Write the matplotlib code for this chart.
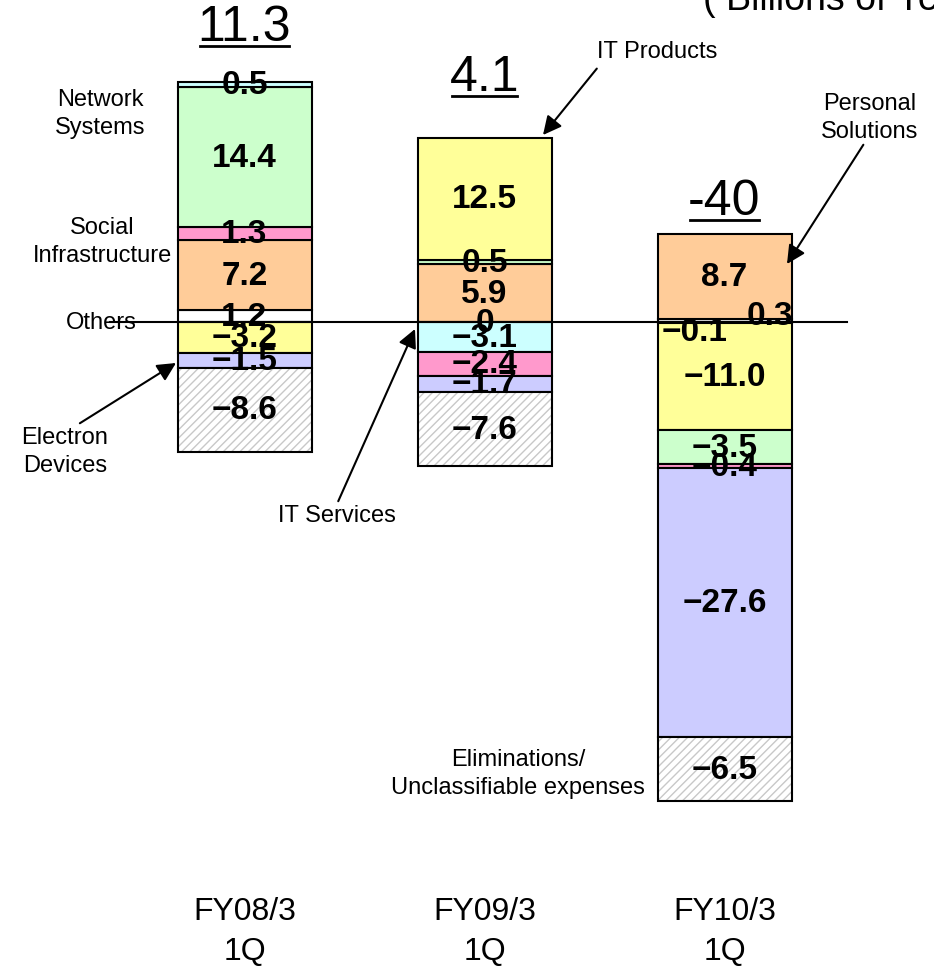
import numpy as np
import matplotlib
matplotlib.use('Agg')
import matplotlib.pyplot as plt

plt.rcParams['font.family'] = ['Liberation Sans', 'DejaVu Sans']

categories = ['FY08/3\n1Q', 'FY09/3\n1Q', 'FY10/3\n1Q']
total_labels = ['11.3', '4.1', '-40']

it_services = [0.5, -3.1, -0.1]
it_products = [-3.2, 12.5, -11.0]
network = [14.4, 0.5, -3.5]
social = [1.3, -2.4, -0.4]
personal = [7.2, 5.9, 8.7]
electron = [-1.5, -1.7, -27.6]
others = [1.2, 0.0, 0.3]
elim = [-8.6, -7.6, -6.5]

series = {
    'IT Services': (it_services, '#CCFFFF'),
    'IT Products': (it_products, '#FFFF99'),
    'Network Systems': (network, '#CCFFCC'),
    'Social Infrastructure': (social, '#FF99CC'),
    'Personal Solutions': (personal, '#FFCC99'),
    'Electron Devices': (electron, '#CCCCFF'),
    'Others': (others, '#FFFFFF'),
    'Eliminations': (elim, '#FFFFFF'),
}
# stacking order (outward from zero)
pos_order = ['Others', 'Personal Solutions', 'Social Infrastructure', 'Network Systems',
             'IT Products', 'IT Services']
neg_order = ['IT Services', 'IT Products', 'Network Systems', 'Social Infrastructure',
             'Personal Solutions', 'Electron Devices', 'Others', 'Eliminations']

# pixel layout helpers
X0, XS = 244.5, 240.0
Y0, YS = 323.0, 9.75
def px(xp): return (xp - X0) / XS
def py(yp): return (Y0 - yp) / YS

fig = plt.figure(figsize=(9.34, 9.70), dpi=100)
ax = fig.add_axes([0, 0, 1, 1])
ax.set_xlim(px(0), px(934))
ax.set_ylim(py(970), py(0))
ax.axis('off')

x = np.arange(len(categories))
width = 134 / XS

# label offsets (pixels) for crowded small segments
label_shift = {('Others', 2): (45, -5), ('IT Services', 2): (-30, 9)}

def fmt(v):
    if v == 0:
        return '0'
    return ('\u2212' if v < 0 else '') + f'{abs(v):.1f}'

tops = []
for i in range(len(categories)):
    base = 0.0
    for name in pos_order:
        vals, col = series[name]
        v = vals[i]
        if v < 0:
            continue
        ax.bar(x[i], v, width, bottom=base, color=col, edgecolor='black', lw=1.5, zorder=2)
        dx, dy = label_shift.get((name, i), (0, 0))
        ax.annotate(fmt(v), (x[i], base + v / 2), xytext=(dx, -dy), textcoords='offset pixels',
                    ha='center', va='center', fontsize=24, fontweight='bold', zorder=5)
        base += v
    tops.append(base)
    base = 0.0
    for name in neg_order:
        vals, col = series[name]
        v = vals[i]
        if v >= 0:
            continue
        if name == 'Eliminations':
            ax.bar(x[i], v, width, bottom=base, color='white', edgecolor='#c8c8c8',
                   hatch='////', lw=0, zorder=2)
            ax.bar(x[i], v, width, bottom=base, fill=False, edgecolor='black', lw=1.5, zorder=3)
        else:
            ax.bar(x[i], v, width, bottom=base, color=col, edgecolor='black', lw=1.5, zorder=2)
        dx, dy = label_shift.get((name, i), (0, 0))
        ax.annotate(fmt(v), (x[i], base + v / 2), xytext=(dx, -dy), textcoords='offset pixels',
                    ha='center', va='center', fontsize=24, fontweight='bold', zorder=5)
        base += v

# zero line
ax.axhline(0, xmin=110 / 934, xmax=847 / 934, color='black', lw=1.5, zorder=4)

# totals, underlined
total_offsets = [55, 61, 33]
total_texts = []
for i, lab in enumerate(total_labels):
    t = ax.annotate(lab, (x[i], tops[i]), xytext=(0, total_offsets[i]), textcoords='offset pixels',
                    ha='center', va='center', fontsize=36)
    total_texts.append(t)
fig.canvas.draw()
rend = fig.canvas.get_renderer()
for t in total_texts:
    bb = t.get_window_extent(rend)
    y_ul = bb.y0 + 4
    fig.add_artist(plt.Line2D([bb.x0 + 2, bb.x1 - 2], [y_ul, y_ul], transform=None,
                              color='black', lw=2))

# category labels
for i, c in enumerate(categories):
    ax.text(x[i], py(932), c, ha='center', va='center', fontsize=23, linespacing=1.45)

# unit
ax.text(px(703), py(10), '( Billions of Yen)', ha='left', va='baseline', fontsize=27)

# segment names
arrow = dict(arrowstyle='-|>', color='black', lw=1.5, mutation_scale=28, shrinkA=0, shrinkB=0)
ax.text(px(100), py(114), 'Network\nSystems', ha='center', va='center', fontsize=17,
        linespacing=1.35)
ax.text(px(102), py(242), 'Social\nInfrastructure', ha='center', va='center', fontsize=17,
        linespacing=1.35)
ax.text(px(101), py(323), 'Others', ha='center', va='center', fontsize=17)
ax.text(px(518), py(774), 'Eliminations/\nUnclassifiable expenses', ha='center', va='center',
        fontsize=17, linespacing=1.35)
ax.annotate('Electron\nDevices', xy=(px(176), py(364)), xytext=(px(65), py(452)),
            ha='center', va='center', fontsize=17, linespacing=1.35,
            arrowprops=dict(arrow, relpos=(0.62, 1.0)))
ax.annotate('IT Services', xy=(px(415), py(330)), xytext=(px(337), py(516)),
            ha='center', va='center', fontsize=17,
            arrowprops=dict(arrow, relpos=(0.5, 1.0)))
ax.annotate('IT Products', xy=(px(543), py(136)), xytext=(px(657), py(52)),
            ha='center', va='center', fontsize=17,
            arrowprops=dict(arrow, relpos=(0.0, -0.3)))
ax.annotate('Personal\nSolutions', xy=(px(787), py(265)), xytext=(px(870), py(118)),
            ha='center', va='center', fontsize=17, linespacing=1.35,
            arrowprops=dict(arrow, relpos=(0.45, 0.0)))

fig.savefig('out.png', dpi=100)
